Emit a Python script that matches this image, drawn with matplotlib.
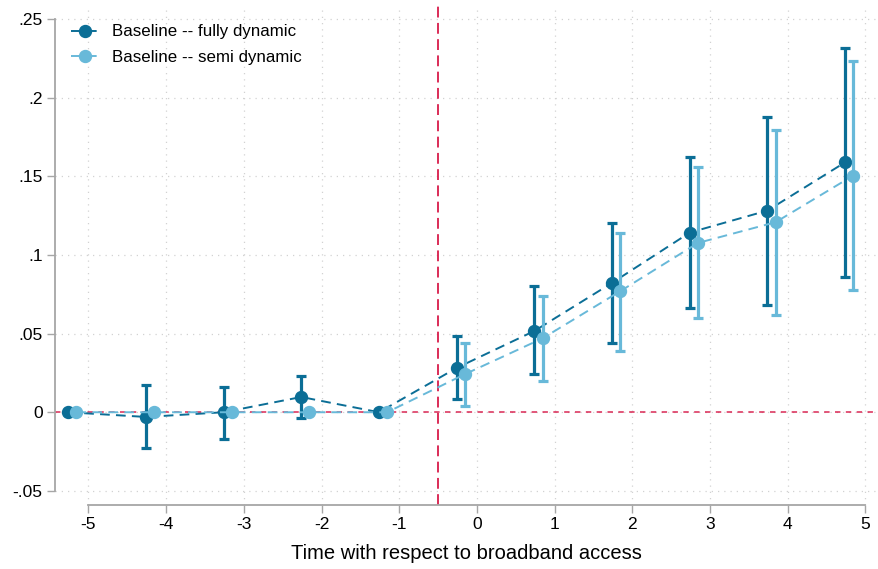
import matplotlib
matplotlib.use("Agg")
import matplotlib.pyplot as plt
import numpy as np

plt.rcParams['font.family'] = ['Liberation Sans', 'DejaVu Sans']

periods = [-5, -4, -3, -2, -1, 0, 1, 2, 3, 4, 5]

full_coef = [0.0, -0.003, 0.0, 0.0097, 0.0, 0.0282, 0.0517, 0.0823, 0.1143, 0.1283, 0.1590]
full_lo = [np.nan, -0.0227, -0.017, -0.0038, np.nan, 0.0083, 0.0246, 0.0441, 0.0660, 0.0685, 0.0859]
full_hi = [np.nan, 0.0172, 0.0160, 0.0229, np.nan, 0.0483, 0.0800, 0.1204, 0.1624, 0.1877, 0.2320]

semi_coef = [0.0, 0.0, 0.0, 0.0, 0.0, 0.0242, 0.0470, 0.0770, 0.1077, 0.1209, 0.1506]
semi_lo = [np.nan, np.nan, np.nan, np.nan, np.nan, 0.0038, 0.0200, 0.0390, 0.0600, 0.0621, 0.0780]
semi_hi = [np.nan, np.nan, np.nan, np.nan, np.nan, 0.0443, 0.0742, 0.1143, 0.1557, 0.1798, 0.2237]

xticks = [-5, -4, -3, -2, -1, 0, 1, 2, 3, 4, 5]
yticks = [-0.05, 0, 0.05, 0.1, 0.15, 0.2, 0.25]
ytick_labels = ['-.05', '0', '.05', '.1', '.15', '.2', '.25']

c_full = '#0b6e96'
c_semi = '#68b9d9'
c_red = '#d81b4a'

fig = plt.figure(figsize=(8.79, 5.69), dpi=100)
ax = fig.add_axes([0.0626, 0.1125, 0.936, 0.8785])

x = np.array(periods, dtype=float)
off_full = -0.26
off_semi = -0.155

def draw(off, coef, lo, hi, color, label, z):
    xx = x + off
    coef = np.array(coef); lo = np.array(lo); hi = np.array(hi)
    m = ~np.isnan(lo)
    ax.errorbar(xx[m], coef[m], yerr=[coef[m] - lo[m], hi[m] - coef[m]], fmt='none',
                ecolor=color, elinewidth=2.3, capsize=3.5, capthick=2.3, zorder=z)
    ax.plot(xx, coef, linestyle=(0, (5, 3.2)), color=color, lw=1.4, marker='o',
            markersize=8.6, markerfacecolor=color, markeredgecolor=color, label=label, zorder=z + 1)

draw(off_full, full_coef, full_lo, full_hi, c_full, 'Baseline -- fully dynamic', 3)
draw(off_semi, semi_coef, semi_lo, semi_hi, c_semi, 'Baseline -- semi dynamic', 5)

ax.axvline(-0.5, color=c_red, lw=1.3, linestyle=(0, (6, 3)), zorder=2)
ax.axhline(0, color=c_red, lw=1.3, linestyle=(0, (3, 3)), alpha=0.8, zorder=2)

ax.set_xlim(-5.43, 5.16)
ax.set_ylim(-0.059, 0.259)
ax.set_xticks(xticks)
ax.set_xticklabels([str(t) for t in xticks])
ax.set_yticks(yticks)
ax.set_yticklabels(ytick_labels)

ax.grid(True, color='#d2d2d2', linestyle=(0, (1, 4)), lw=0.9, zorder=0)
for s in ['top', 'right']:
    ax.spines[s].set_visible(False)
ax.spines['left'].set_bounds(-0.05, 0.25)
ax.spines['bottom'].set_bounds(-5, 5)
for s in ['left', 'bottom']:
    ax.spines[s].set_color('#a6a6a6')
    ax.spines[s].set_linewidth(1.3)
ax.tick_params(axis='both', colors='#a6a6a6', length=6, width=1.0, labelsize=12.5,
               labelcolor='black')
ax.tick_params(axis='y', pad=3)
ax.tick_params(axis='x', pad=3)

ax.set_xlabel('Time with respect to broadband access', fontsize=14.5, labelpad=8)

leg = ax.legend(loc='upper left', bbox_to_anchor=(0.005, 0.985), frameon=False, fontsize=12.2,
                handlelength=1.6, handletextpad=0.8, labelspacing=0.63, borderaxespad=0.3)

fig.savefig('out.png', dpi=100)
